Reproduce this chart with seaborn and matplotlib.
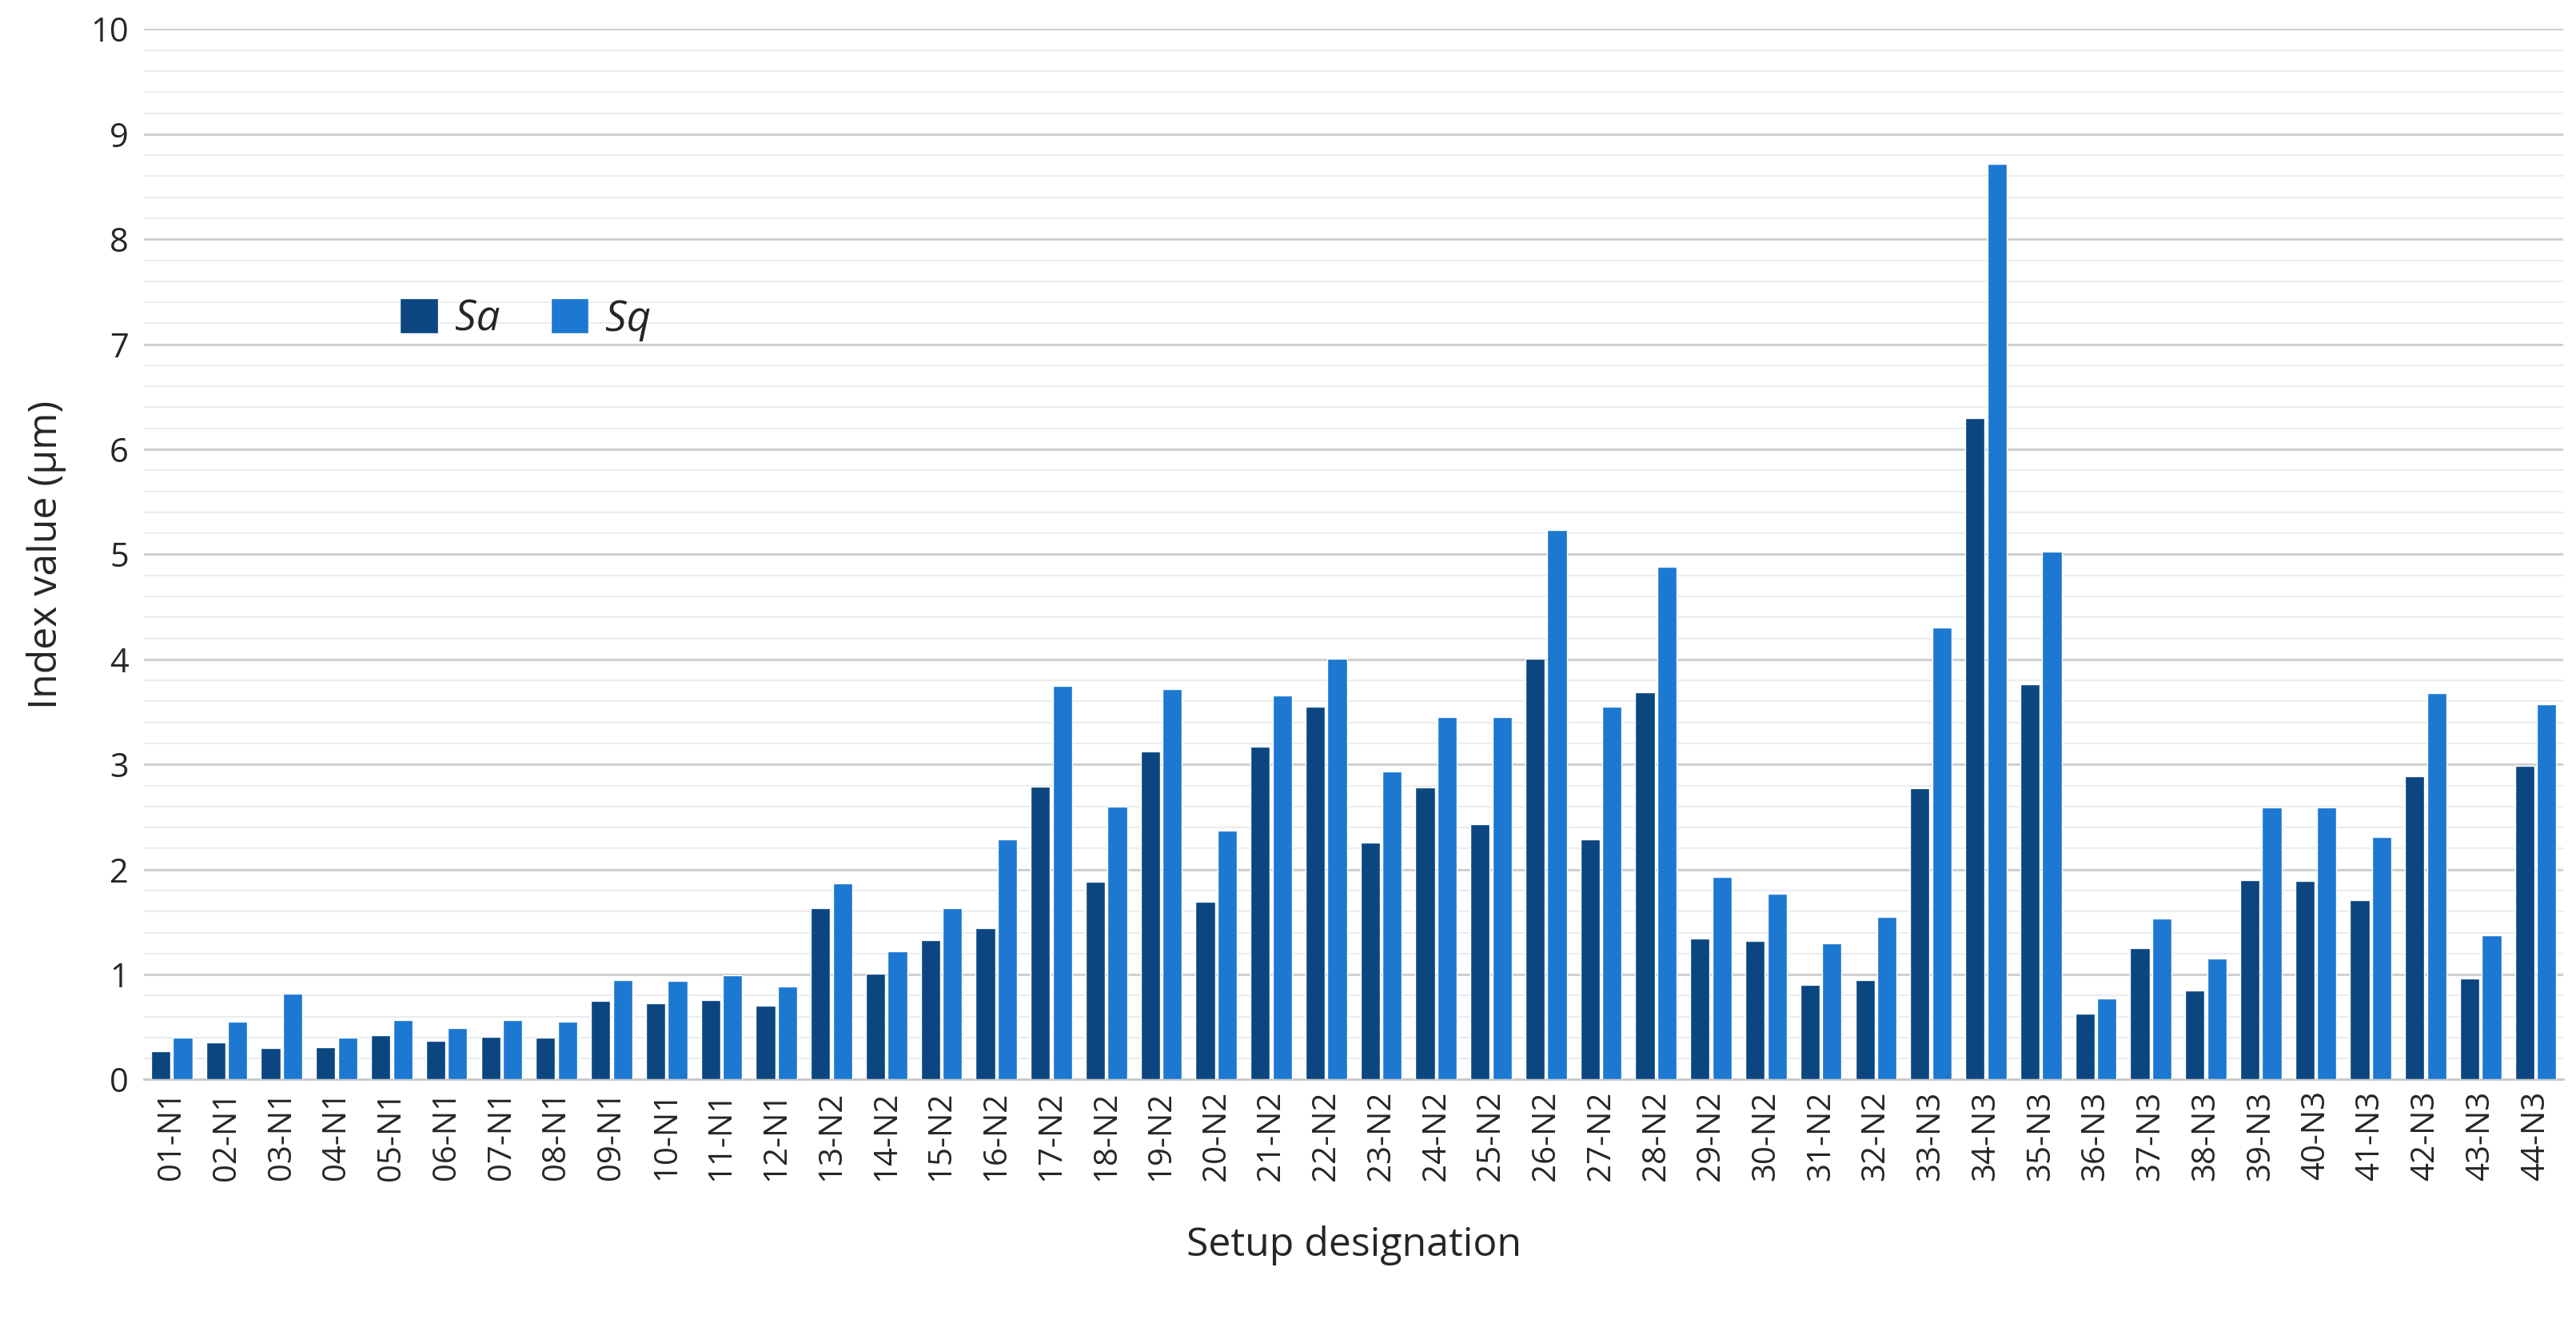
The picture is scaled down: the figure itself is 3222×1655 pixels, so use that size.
import matplotlib
matplotlib.use("Agg")
import matplotlib.pyplot as plt
import seaborn as sns
import pandas as pd
import numpy as np
from matplotlib.ticker import MultipleLocator

labels = [f"{i:02d}-N1" for i in range(1, 13)] + [f"{i:02d}-N2" for i in range(13, 33)] + [f"{i:02d}-N3" for i in range(33, 45)]
sa = [0.27,0.35,0.30,0.31,0.42,0.37,0.41,0.40,0.75,0.73,0.76,0.70,1.63,1.01,1.33,1.44,2.79,1.88,3.12,1.69,3.17,3.55,2.26,2.78,2.43,4.01,2.29,3.69,1.34,1.32,0.90,0.95,2.77,6.30,3.76,0.63,1.25,0.85,1.90,1.89,1.71,2.89,0.96,2.99]
sq = [0.40,0.55,0.82,0.40,0.57,0.49,0.57,0.55,0.95,0.94,0.99,0.89,1.87,1.22,1.63,2.29,3.75,2.60,3.72,2.37,3.66,4.01,2.93,3.45,3.45,5.23,3.55,4.88,1.93,1.77,1.30,1.55,4.30,8.72,5.03,0.77,1.53,1.15,2.59,2.59,2.31,3.68,1.37,3.57]

df = pd.DataFrame({"Setup": labels * 2, "Value": sa + sq,
                   "Index": ["Sa"] * len(sa) + ["Sq"] * len(sq)})

sns.set_theme(style="white")
plt.rcParams['font.family'] = ['Calibri', 'Open Sans', 'DejaVu Sans']
fig, ax = plt.subplots(figsize=(32.22, 16.55), dpi=100)
fig.subplots_adjust(left=0.056, right=0.995, top=0.978, bottom=0.184)
sns.barplot(data=df, x="Setup", y="Value", hue="Index", palette=["#0b4680", "#1c78d0"],
            saturation=1, width=0.8, gap=0.12, ax=ax, zorder=3)
ax.set_ylim(0, 10)
ax.set_xlim(-0.5, len(labels) - 0.5)
ax.yaxis.set_major_locator(MultipleLocator(1))
ax.yaxis.set_minor_locator(MultipleLocator(0.2))
ax.grid(axis="y", which="major", color="#d0d0d0", linewidth=2.2, zorder=0)
ax.grid(axis="y", which="minor", color="#ececec", linewidth=1.5, zorder=0)
for s in ["top", "right", "left"]:
    ax.spines[s].set_visible(False)
ax.spines["bottom"].set_color("#c8c8c8")
ax.spines["bottom"].set_linewidth(2)
ax.tick_params(axis="x", labelrotation=90, labelsize=29, length=0, pad=10)
ax.tick_params(axis="y", labelsize=30, length=0, pad=14)
ax.set_xlabel("Setup designation", fontsize=36, labelpad=40)
ax.set_ylabel("Index value (µm)", fontsize=36, labelpad=22)
leg = ax.legend(loc="upper left", bbox_to_anchor=(0.09, 0.78), ncol=2, frameon=False,
                fontsize=38, handlelength=0.9, handleheight=0.9, columnspacing=1.2, handletextpad=0.4)
for t in leg.get_texts():
    t.set_fontstyle("italic")
fig.savefig("out.png", dpi=100)
